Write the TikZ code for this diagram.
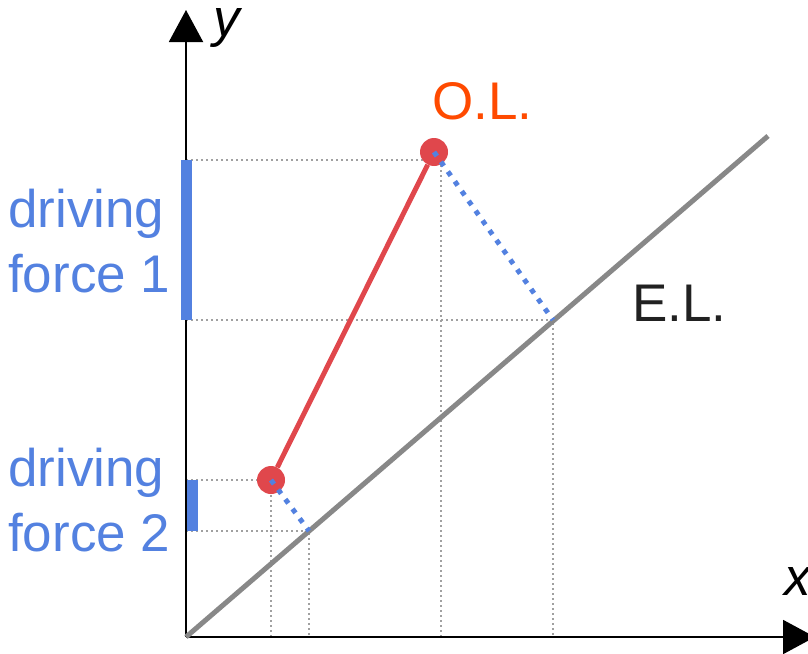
\documentclass[tikz,border=0pt]{standalone}
\usepackage{fontspec}
\setmainfont{Liberation Sans}
\usetikzlibrary{arrows.meta}
\definecolor{ForceBlue}{HTML}{5381E0}
\definecolor{PointRed}{HTML}{E0474C}
\definecolor{LabelOrange}{HTML}{FF4A00}
\definecolor{LineGray}{HTML}{888888}
\definecolor{GuideGray}{HTML}{A0A0A0}

\begin{document}
\begin{tikzpicture}[x=1pt,y=-1pt,font=\fontsize{53}{65}\selectfont,
        axis/.style={line width=2pt,-{Triangle[length=32pt,width=34pt]}},
        guide/.style={GuideGray,line width=2pt,dash pattern=on 2pt off 3pt},
        drive/.style={ForceBlue,line width=5pt,dash pattern=on 5pt off 7pt},
        opt/.style={circle,fill=PointRed,minimum size=28pt,inner sep=0pt},
        tag/.style={anchor=base west,inner sep=0pt}]
      \useasboundingbox (0,0) rectangle (808,653);
      % fixed points
      \coordinate (o) at (186,637);
      \coordinate (ytip) at (186,10);
      \coordinate (xtip) at (815,637);
      \coordinate (elend) at (768,136);
      \coordinate (hi) at (434,152);
      \coordinate (hig) at (441,160);
      \coordinate (lo) at (271,480);
      \coordinate (e1) at (553,320);
      \coordinate (e2) at (309,531);
      % guides
      \draw[guide] (hig -| o) -- (hig) -- (hig |- o);
      \draw[guide] (e1 -| o) -- (e1) -- (e1 |- o);
      \draw[guide] (lo -| o) -- (lo) -- (lo |- o);
      \draw[guide] (e2 -| o) -- (e2) -- (e2 |- o);
      % axes and equilibrium line
      \draw[axis] (o) -- (ytip);
      \draw[axis] (o) -- (xtip);
      \draw[LineGray,line width=5pt] (o) -- (elend);
      \fill[ForceBlue] ([xshift=-5pt]hig -| o) rectangle ([xshift=6pt]e1 -| o);
      \fill[ForceBlue] ([xshift=1pt]lo -| o) rectangle ([xshift=12pt]e2 -| o);
      % operating line
      \node[opt] (hipt) at (hi) {};
      \node[opt] (lopt) at (lo) {};
      \draw[PointRed,line width=5pt] (lopt) -- (hipt);
      \draw[drive] (hipt.center) -- (e1);
      \draw[drive] (lopt.center) -- (e2);
      % labels
      \node[tag] (ylab) at (213,36) {\itshape y};
      \node[tag] (xlab) at (784,595) {\itshape x};
      \node[tag,LabelOrange] (ollab) at (432,119) {O.L.};
      \node[tag,black!87] (ellab) at (632,321) {E.L.};
      \node[tag,ForceBlue,align=left] (df1) at (8,292) {driving\\force 1};
      \node[tag,ForceBlue,align=left] (df2) at (8,551) {driving\\force 2};
    \end{tikzpicture}
\end{document}
